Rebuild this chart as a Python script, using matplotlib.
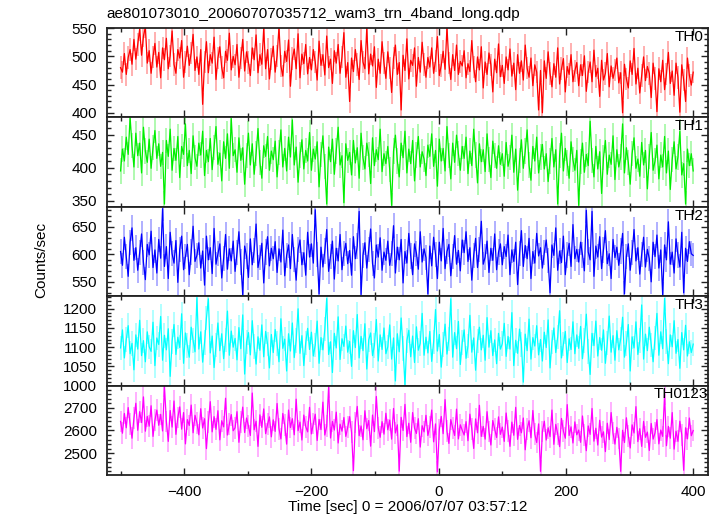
import matplotlib
matplotlib.use('Agg')
import matplotlib.pyplot as plt
from matplotlib.ticker import MultipleLocator
import numpy as np

plt.rcParams['font.family'] = ['Liberation Sans', 'DejaVu Sans']

title_txt = 'ae801073010_20060707035712_wam3_trn_4band_long.qdp'
xlabel_txt = 'Time [sec] 0 = 2006/07/07 03:57:12'
ylabel_txt = 'Counts/sec'

# time grid (sec from reference epoch)
t_start = -500
t_bin = 3

band_names = ['TH0', 'TH1', 'TH2', 'TH3', 'TH0123']
band_colors = ['#FF0000', '#00EE00', '#0000FF', '#00FFFF', '#FF00FF']
band_err = [20, 19, 23, 32, 48]

th0 = [
    480, 472, 505, 468, 498, 512, 486, 530, 495, 521, 548, 502, 536, 552, 488, 510, 470, 499, 523, 481,
    507, 462, 515, 494, 532, 478, 501, 545, 486, 470, 512, 497, 528, 463, 490, 518, 484, 506, 539, 475,
    499, 468, 512, 415, 490, 526, 471, 503, 488, 534, 459, 497, 517, 480, 462, 509, 493, 541, 476, 500,
    485, 521, 463, 497, 530, 474, 508, 489, 466, 515, 494, 538, 471, 503, 486, 550, 478, 512, 460, 495,
    518, 472, 501, 552, 483, 465, 509, 491, 529, 447, 496, 513, 478, 540, 462, 504, 487, 521, 469, 498,
    476, 512, 490, 458, 527, 484, 503, 467, 536, 480, 495, 452, 510, 488, 521, 470, 499, 542, 463, 489,
    420, 497, 473, 512, 486, 459, 528, 490, 478, 551, 469, 504, 483, 517, 445, 495, 470, 526, 488, 461,
    508, 479, 436, 497, 520, 468, 489, 405, 502, 475, 531, 460, 493, 484, 515, 447, 498, 472, 525, 486,
    463, 498, 481, 515, 470, 492, 535, 466, 484, 509, 477, 552, 488, 459, 503, 475, 520, 468, 491, 483,
    510, 462, 487, 473, 528, 481, 455, 499, 476, 517, 444, 490, 468, 506, 485, 437, 495, 471, 522, 464,
    484, 452, 499, 476, 513, 465, 488, 441, 503, 470, 492, 458, 520, 479, 463, 497, 448, 485, 472, 405,
    475, 400, 492, 461, 508, 470, 446, 487, 463, 515, 451, 478, 496, 437, 482, 468, 503, 455, 474, 489,
    448, 485, 466, 501, 438, 472, 490, 455, 511, 464, 479, 429, 493, 458, 470, 505, 446, 483, 461, 476,
    497, 453, 471, 400, 486, 460, 444, 492, 468, 514, 451, 479, 435, 466, 499, 457, 482, 470, 427, 488,
    461, 402, 478, 455, 493, 441, 469, 507, 452, 474, 431, 488, 463, 401, 485, 458, 420, 497, 466, 449,
    472,
]

th1 = [
    395, 428, 410, 446, 420, 476, 433, 401, 452, 418, 437, 392, 461, 425, 408, 443, 399, 430, 456, 414,
    436, 402, 423, 345, 441, 417, 458, 396, 429, 411, 447, 385, 432, 420, 466, 403, 426, 391, 448, 415,
    402, 437, 419, 455, 388, 426, 409, 444, 397, 431, 462, 405, 422, 380, 439, 414, 451, 399, 474, 418,
    427, 393, 445, 411, 430, 375, 418, 452, 404, 436, 390, 421, 459, 408, 384, 433, 417, 447, 396, 425,
    412, 440, 386, 423, 457, 401, 429, 395, 446, 416, 472, 404, 431, 378, 419, 442, 398, 426, 410, 453,
    396, 428, 413, 439, 371, 420, 448, 402, 345, 431, 409, 443, 390, 425, 461, 404, 418, 347, 436, 411,
    423, 389, 441, 407, 430, 384, 452, 415, 398, 437, 420, 376, 445, 403, 427, 412, 458, 394, 421, 406,
    432, 397, 343, 425, 449, 410, 386, 437, 415, 455, 392, 428, 406, 441, 380, 419, 447, 401, 424, 413,
    388, 434, 417, 451, 402, 426, 372, 443, 410, 429, 395, 462, 418, 383, 437, 408, 449, 421, 396, 432,
    414, 446, 391, 425, 403, 458, 419, 377, 436, 409, 427, 394, 451, 412, 385, 440, 418, 399, 433, 405,
    421, 387, 438, 402, 415, 449, 393, 428, 366, 411, 442, 399, 425, 457, 404, 381, 432, 410, 446, 392,
    416, 435, 398, 421, 379, 410, 444, 401, 427, 345, 418, 452, 395, 429, 407, 384, 439, 412, 396, 426,
    343, 409, 437, 393, 420, 403, 470, 411, 386, 432, 398, 424, 361, 415, 441, 390, 419, 405, 448, 382,
    427, 401, 416, 466, 392, 430, 408, 375, 421, 445, 399, 413, 387, 438, 404, 426, 368, 417, 453, 396,
    410, 434, 383, 419, 401, 447, 392, 425, 367, 412, 439, 398, 416, 455, 389, 406, 345, 428, 403, 421,
    395,
]

th2 = [
    605, 580, 631, 596, 560, 622, 648, 589, 612, 571, 603, 637, 585, 554, 618, 599, 642, 576, 608, 566,
    627, 593, 683, 578, 614, 556, 640, 601, 584, 625, 549, 609, 633, 572, 596, 618, 563, 604, 651, 587,
    598, 621, 575, 606, 544, 633, 590, 612, 565, 647, 582, 601, 619, 557, 593, 636, 573, 610, 588, 624,
    569, 603, 641, 586, 526, 615, 597, 558, 628, 581, 607, 655, 576, 594, 620, 548, 604, 632, 579, 611,
    592, 623, 567, 610, 586, 644, 561, 598, 617, 574, 636, 590, 553, 609, 626, 581, 603, 562, 640, 595,
    619, 584, 681, 600, 528, 613, 577, 606, 645, 569, 596, 624, 555, 611, 588, 636, 572, 602, 620, 583,
    607, 562, 632, 592, 615, 678, 527, 598, 621, 575, 609, 646, 583, 557, 617, 595, 630, 571, 604, 589,
    624, 580, 601, 652, 566, 613, 590, 627, 548, 605, 584, 638, 597, 563, 619, 602, 573, 641, 586, 610,
    594, 528, 615, 579, 631, 600, 556, 622, 588, 647, 574, 605, 618, 561, 596, 634, 582, 607, 570, 626,
    603, 641, 587, 612, 553, 598, 629, 576, 609, 660, 582, 595, 624, 567, 611, 589, 637, 572, 604, 619,
    581, 614, 596, 635, 563, 608, 587, 622, 545, 601, 643, 578, 616, 592, 629, 556, 605, 584, 638, 597,
    612, 575, 603, 626, 589, 530, 617, 598, 648, 571, 606, 585, 633, 563, 599, 620, 578, 654, 592, 609,
    586, 622, 599, 570, 680, 604, 590, 678, 560, 615, 595, 632, 574, 608, 643, 583, 601, 556, 627, 594,
    613, 580, 606, 638, 528, 596, 619, 571, 603, 645, 588, 612, 564, 600, 631, 577, 609, 592, 550, 622,
    596, 635, 575, 608, 526, 617, 590, 659, 582, 604, 566, 628, 599, 577, 640, 530, 611, 587, 623, 601,
    598,
]

th3 = [
    1098, 1145, 1072, 1120, 1156, 1083, 1110, 1041, 1132, 1095, 1170, 1078, 1117, 1062, 1140, 1101, 1089, 1165, 1052, 1124,
    1107, 1180, 1066, 1131, 1093, 1148, 1024, 1115, 1159, 1081, 1126, 1099, 1187, 1058, 1137, 1104, 1074, 1152, 1118, 1088,
    1229, 1095, 1140, 1061, 1112, 1176, 1226, 1085, 1129, 1047, 1106, 1163, 1091, 1135, 1070, 1119, 1194, 1079, 1142, 1100,
    1123, 1067, 1151, 1096, 1184, 1030, 1113, 1138, 1080, 1169, 1102, 1056, 1127, 1092, 1158, 1075, 1141, 1108, 1046, 1133,
    1086, 1146, 1109, 1062, 1174, 1097, 1121, 1038, 1135, 1090, 1163, 1073, 1118, 1200, 1084, 1130, 1052, 1111, 1149, 1094,
    1139, 1077, 1106, 1168, 1058, 1125, 1093, 1147, 1227, 1081, 1114, 1034, 1136, 1098, 1179, 1068, 1122, 1102, 1155, 1087,
    1115, 1050, 1143, 1099, 1185, 1072, 1128, 1091, 1161, 1043, 1119, 1137, 1078, 1105, 1172, 1064, 1132, 1094, 1150, 1083,
    1101, 1158, 1069, 1124, 1012, 1135, 1088, 1176, 1097, 1001, 1117, 1144, 1075, 1129, 1060, 1153, 1092, 1110, 1188, 1079,
    1126, 1085, 1141, 1063, 1114, 1198, 1090, 1133, 1048, 1107, 1160, 1082, 1121, 1226, 1074, 1138, 1096, 1167, 1055, 1112,
    1145, 1071, 1103, 1183, 1087, 1124, 1040, 1116, 1152, 1093, 1131, 1066, 1177, 1100, 1143, 1078, 1119, 1057, 1136, 1095,
    1109, 1162, 1076, 1128, 1095, 1190, 1052, 1118, 1084, 1147, 1107, 1009, 1134, 1091, 1173, 1069, 1125, 1103, 1156, 1080,
    1120, 1064, 1139, 1099, 1171, 1046, 1113, 1150, 1086, 1127, 1195, 1072, 1108, 1141, 1060, 1122, 1094, 1166, 1083, 1132,
    1097, 1154, 1070, 1118, 1186, 1089, 1029, 1136, 1104, 1168, 1077, 1125, 1092, 1145, 1058, 1111, 1181, 1087, 1130, 1066,
    1143, 1093, 1121, 1178, 1074, 1110, 1159, 1038, 1127, 1098, 1166, 1081, 1117, 1210, 1069, 1134, 1091, 1152, 1106, 1062,
    1124, 1188, 1079, 1140, 1096, 1227, 1115, 1057, 1132, 1101, 1169, 1084, 1120, 1045, 1138, 1093, 1157, 1077, 1114, 1086,
    1108,
]

th0123 = [
    2640, 2588, 2675, 2612, 2701, 2629, 2566, 2654, 2720, 2601, 2683, 2635, 2748, 2597, 2662, 2619, 2709, 2574, 2645, 2690,
    2623, 2671, 2598, 2795, 2640, 2552, 2688, 2615, 2730, 2583, 2657, 2704, 2606, 2679, 2541, 2648, 2622, 2712, 2590, 2667,
    2634, 2581, 2696, 2611, 2652, 2520, 2638, 2727, 2594, 2661, 2605, 2687, 2559, 2643, 2616, 2742, 2580, 2628, 2670, 2599,
    2612, 2683, 2548, 2636, 2703, 2591, 2655, 2620, 2578, 2765, 2603, 2641, 2530, 2669, 2614, 2695, 2586, 2627, 2660, 2572,
    2647, 2596, 2719, 2608, 2563, 2675, 2624, 2540, 2690, 2613, 2652, 2581, 2738, 2599, 2637, 2558, 2668, 2617, 2594, 2702,
    2585, 2631, 2672, 2556, 2649, 2604, 2725, 2580, 2619, 2793, 2567, 2640, 2602, 2681, 2545, 2628, 2597, 2657, 2574, 2614,
    2661, 2592, 2423, 2635, 2706, 2577, 2620, 2559, 2687, 2608, 2644, 2531, 2668, 2595, 2750, 2612, 2570, 2639, 2584, 2676,
    2603, 2646, 2562, 2697, 2589, 2625, 2421, 2658, 2600, 2715, 2573, 2632, 2548, 2679, 2610, 2587, 2652, 2527, 2621, 2594,
    2667, 2578, 2614, 2690, 2550, 2629, 2418, 2604, 2662, 2586, 2736, 2597, 2543, 2648, 2611, 2578, 2694, 2563, 2625, 2601,
    2580, 2639, 2555, 2672, 2607, 2521, 2651, 2590, 2711, 2574, 2618, 2562, 2683, 2596, 2536, 2644, 2607, 2569, 2660, 2583,
    2615, 2552, 2677, 2598, 2530, 2637, 2579, 2702, 2561, 2622, 2590, 2655, 2515, 2606, 2643, 2568, 2688, 2584, 2547, 2629,
    2420, 2596, 2641, 2558, 2612, 2573, 2690, 2539, 2627, 2585, 2529, 2653, 2597, 2566, 2714, 2578, 2616, 2545, 2638, 2581,
    2602, 2548, 2664, 2579, 2511, 2620, 2583, 2697, 2553, 2610, 2536, 2645, 2571, 2594, 2507, 2632, 2560, 2679, 2588, 2540,
    2614, 2565, 2420, 2601, 2547, 2656, 2577, 2523, 2625, 2589, 2705, 2551, 2608, 2530, 2640, 2570, 2593, 2512, 2631, 2562,
    2590, 2648, 2541, 2602, 2574, 2760, 2533, 2618, 2566, 2679, 2518, 2597, 2552, 2641, 2580, 2425, 2612, 2563, 2655, 2577,
    2600,
]

band_values = [th0, th1, th2, th3, th0123]

# axis ranges as in the qdp plot
y_limits = [(392, 550.5), (341, 476), (524, 686.5), (1000, 1233), (2404, 2798)]
y_major = [50, 50, 50, 50, 100]
y_minor = [10, 10, 10, 10, 20]
x_limits = (-522, 424)

fig, axes = plt.subplots(5, 1, sharex=True, figsize=(7.2, 5.16), dpi=100)
fig.subplots_adjust(left=0.148, right=0.984, top=0.946, bottom=0.0795, hspace=0)

for i, ax in enumerate(axes):
    vals = np.array(band_values[i], dtype=float)
    t = t_start + t_bin * np.arange(len(vals))
    color = band_colors[i]

    # error bars in lighter shade, then the curve itself
    ax.errorbar(t, vals, yerr=band_err[i], fmt='none', ecolor=color,
                elinewidth=1.1, alpha=0.4)
    ax.plot(t, vals, color=color, linewidth=0.9)

    ax.set_xlim(*x_limits)
    ax.set_ylim(*y_limits[i])
    ax.yaxis.set_major_locator(MultipleLocator(y_major[i]))
    ax.yaxis.set_minor_locator(MultipleLocator(y_minor[i]))
    ax.xaxis.set_major_locator(MultipleLocator(200))
    ax.xaxis.set_minor_locator(MultipleLocator(100))

    ax.tick_params(which='both', direction='in', top=True, right=True,
                   labelsize=11, pad=7, width=1.0, color='#222222')
    ax.tick_params(which='major', length=5)
    ax.tick_params(which='minor', length=3)
    for sp in ax.spines.values():
        sp.set_linewidth(1.3)
        sp.set_color('#222222')

    if band_names[i] == 'TH0123':
        ax.text(1.0, 0.9, band_names[i], transform=ax.transAxes,
                ha='right', va='center', fontsize=11)
    else:
        ax.text(0.991, 0.9, band_names[i], transform=ax.transAxes,
                ha='right', va='center', fontsize=11)

fig.text(0.148, 1 - 14 / 516, title_txt, ha='left', va='center', fontsize=11)
fig.text(0.5661, 1 - 507 / 516, xlabel_txt, ha='center', va='center', fontsize=11)
fig.text(0.0576, 0.496, ylabel_txt, ha='center', va='center', rotation=90, fontsize=11)

plt.savefig('out.png', dpi=100)
